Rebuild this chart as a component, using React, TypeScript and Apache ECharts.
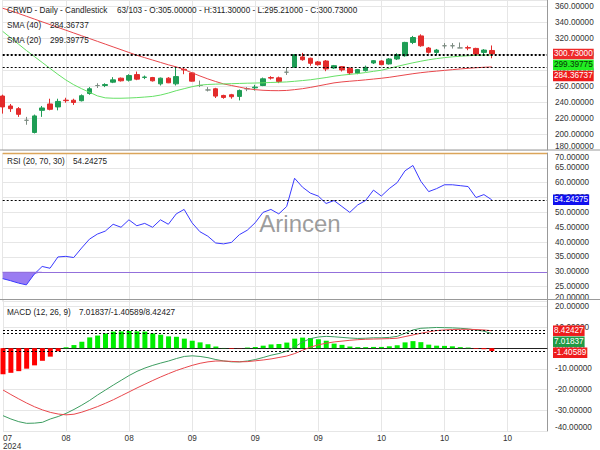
import React, { useEffect, useRef } from 'react';
import * as echarts from 'echarts';

const symbolName = 'CRWD';
const barInfo = '63/103';
const dates = [
  '2024-07-31', '2024-08-01', '2024-08-02', '2024-08-05', '2024-08-06', '2024-08-07', '2024-08-08', '2024-08-09',
  '2024-08-12', '2024-08-13', '2024-08-14', '2024-08-15', '2024-08-16', '2024-08-19', '2024-08-20', '2024-08-21',
  '2024-08-22', '2024-08-23', '2024-08-26', '2024-08-27', '2024-08-28', '2024-08-29', '2024-08-30', '2024-09-03',
  '2024-09-04', '2024-09-05', '2024-09-06', '2024-09-09', '2024-09-10', '2024-09-11', '2024-09-12', '2024-09-13',
  '2024-09-16', '2024-09-17', '2024-09-18', '2024-09-19', '2024-09-20', '2024-09-23', '2024-09-24', '2024-09-25',
  '2024-09-26', '2024-09-27', '2024-09-30', '2024-10-01', '2024-10-02', '2024-10-03', '2024-10-04', '2024-10-07',
  '2024-10-08', '2024-10-09', '2024-10-10', '2024-10-11', '2024-10-14', '2024-10-15', '2024-10-16', '2024-10-17',
  '2024-10-18', '2024-10-21', '2024-10-22', '2024-10-23', '2024-10-24', '2024-10-25', '2024-10-28', '2024-10-29',
  '2024-10-30', '2024-10-31', '2024-11-01', '2024-11-04', '2024-11-05', '2024-11-06',
];
const opens = [247.8, 235.3, 231.9, 217.3, 202.0, 229.8, 237.8, 234.1, 242.6, 242.5, 241.9, 251.0, 261.0, 261.0, 265.2, 270.2,
  267.7, 274.7, 271.2, 271.0, 263.1, 270.2, 263.1, 281.4, 276.8, 261.0, 255.4, 256.9, 248.5, 249.4, 247.3, 256.9,
  258.1, 261.0, 271.0, 270.6, 277.7, 284.0, 296.9, 295.2, 290.6, 291.8, 283.0, 284.7, 282.6, 276.5, 279.7, 289.3,
  291.8, 288.1, 294.3, 298.4, 315.1, 323.3, 308.1, 302.6, 310.9, 310.9, 308.2, 308.6, 307.6, 302.6, 305.0];
const highs = [249.5, 237.8, 233.9, 221.6, 224.5, 235.3, 244.4, 244.4, 245.6, 244.4, 249.8, 259.0, 263.8, 263.8, 271.5, 271.0,
  275.2, 278.5, 273.5, 271.8, 271.0, 271.5, 284.7, 283.6, 277.7, 267.2, 259.0, 258.1, 249.4, 250.5, 256.0, 259.0,
  261.9, 271.0, 272.7, 272.2, 283.9, 300.5, 302.0, 296.0, 291.8, 293.0, 286.8, 285.5, 283.9, 281.8, 286.0, 293.0,
  292.7, 295.5, 301.5, 315.9, 323.3, 325.3, 309.4, 306.9, 314.3, 314.3, 315.0, 311.0, 308.4, 306.7, 311.3];
const lows = [225.7, 227.8, 221.6, 211.7, 200.8, 221.6, 229.8, 229.8, 239.4, 236.6, 241.0, 249.4, 257.9, 259.0, 264.0, 266.0,
  266.0, 267.7, 269.0, 266.0, 261.0, 264.0, 261.0, 275.2, 266.0, 259.0, 253.5, 245.3, 244.4, 244.4, 242.3, 253.9,
  254.7, 260.2, 268.5, 264.0, 274.3, 283.1, 292.2, 285.9, 285.9, 279.0, 281.8, 278.6, 274.3, 275.2, 278.5, 288.0,
  286.5, 287.2, 293.0, 297.2, 313.0, 309.6, 301.0, 299.4, 307.4, 307.4, 308.2, 305.3, 299.5, 299.5, 295.21];
const closes = [234.1, 231.9, 224.8, 217.3, 222.8, 232.8, 231.1, 241.0, 242.0, 239.7, 248.2, 256.9, 261.0, 262.2, 268.1, 266.9,
  273.5, 269.0, 271.6, 266.9, 270.2, 264.4, 272.2, 280.6, 266.5, 261.0, 255.4, 247.7, 246.0, 246.9, 254.8, 256.9,
  259.0, 269.4, 270.3, 266.0, 277.7, 299.7, 293.4, 288.9, 287.2, 281.8, 285.9, 280.6, 276.8, 281.0, 283.9, 292.2,
  287.2, 294.3, 299.7, 315.1, 321.3, 310.9, 302.7, 305.5, 310.9, 310.9, 308.2, 308.0, 300.4, 305.5, 300.73];
const sma20 = [329, 321, 313, 305, 297.5, 290, 282.5, 275, 268, 262, 257, 252.5, 248, 245.5, 245, 245,
  245.3, 245.8, 246.5, 247.3, 249, 251.5, 254.5, 257, 259.5, 261.5, 262.3, 262.7, 263, 263.3, 263.6, 263.9,
  264.1, 264.4, 264.8, 265.1, 265.5, 266.3, 267.2, 268.2, 269.6, 271, 272.7, 274, 275, 276, 277.3, 278.8,
  280.2, 282.5, 285, 287.3, 289.5, 291.5, 293.3, 294.8, 296, 297, 297.8, 298.4, 298.9, 299.2, 299.39775];
const sma40 = [358, 355, 351.5, 348, 344.5, 341, 337.5, 334, 330.5, 327, 323.5, 320, 316.5, 313, 309.5, 306,
  302.5, 299, 296, 293, 290, 287, 284.4, 281, 277, 273, 269.3, 266, 263, 261, 259, 257,
  255.8, 255, 254.6, 254.5, 254.8, 255.8, 257, 258.6, 260.5, 262.4, 264.3, 265.5, 266.4, 267.2, 268.1, 269.1,
  270.1, 271.3, 272.8, 274.3, 275.8, 277.1, 278.2, 279.1, 280, 280.9, 281.8, 282.6, 283.3, 283.9, 284.36737];
const rsi = [27.7, 27.0, 26.2, 25.6, 29.2, 31.8, 31.2, 35.0, 35.2, 34.8, 38.0, 41.0, 42.7, 43.7, 46.0, 45.0,
  47.5, 45.5, 46.3, 45.0, 47.5, 46.0, 49.5, 51.0, 46.5, 43.5, 42.0, 39.7, 39.4, 39.9, 42.5, 44.0,
  46.5, 50.0, 51.0, 49.5, 52.0, 61.5, 58.5, 56.5, 55.5, 53.0, 54.0, 52.0, 50.0, 52.5, 54.0, 57.5,
  55.5, 58.0, 60.0, 64.0, 65.8, 60.5, 57.0, 58.0, 59.3, 59.3, 59.0, 58.7, 55.0, 56.0, 54.24275];
const macd = [-32.6, -34.2, -35.5, -36.3, -36.2, -35.8, -34.2, -33.0, -31.5, -29.6, -27.5, -25.2, -22.6, -20.2, -17.8, -15.5,
  -13.2, -11.2, -9.6, -8.3, -7.2, -6.2, -5.0, -4.0, -3.7, -4.0, -4.6, -5.5, -6.2, -6.6, -6.6, -6.2,
  -5.5, -4.5, -3.4, -2.6, -1.4, 0.6, 3.0, 4.6, 5.4, 5.7, 5.5, 5.2, 4.9, 4.7, 4.8, 5.0,
  5.0, 5.2, 5.7, 7.2, 8.8, 9.6, 9.8, 10.0, 9.9, 9.8, 9.6, 9.3, 8.8, 8.2, 7.01837];
const signal = [-20.2, -22.4, -24.5, -26.5, -28.3, -29.8, -31.0, -31.8, -32.2, -31.9, -30.9, -29.6, -28.2, -26.6, -24.9, -23.0,
  -21.1, -19.2, -17.4, -15.6, -13.9, -12.3, -10.8, -9.5, -8.3, -7.3, -6.6, -6.2, -6.2, -6.4, -6.6, -6.5,
  -6.1, -5.7, -5.2, -4.5, -3.8, -2.6, -1.0, 0.5, 1.6, 2.4, 3.0, 3.4, 3.8, 4.1, 4.3, 4.4,
  4.5, 4.6, 4.8, 5.6, 6.4, 7.2, 7.9, 8.5, 8.8, 9.0, 9.1, 9.1, 9.0, 8.8, 8.42427];
const hist = [-12.6, -11.9, -11.1, -9.9, -8.3, -6.1, -4.1, -1.5, 0.5, 1.5, 3.1, 5.2, 6.1, 7.1, 8.0, 8.1,
  8.3, 8.1, 8.0, 7.1, 6.5, 5.7, 5.5, 4.6, 3.6, 2.8, 1.9, 0.8, 0.1, -0.3, -0.1, 0.3,
  0.6, 1.2, 1.8, 2.0, 2.7, 4.6, 5.1, 4.9, 4.3, 3.6, 2.2, 1.6, 0.8, 0.5, 0.5, 0.6,
  0.6, 0.9, 1.4, 2.8, 3.4, 2.9, 1.7, 1.2, 1.1, 0.9, 0.5, 0.3, -0.3, -0.5, -1.40589];
const rsiLevels = [70, 30];

const FONT = '"Liberation Sans", Arial, sans-serif';
const FS = 8.2;
const UP = '#1f9d55';
const DOWN = '#e32b2b';
const SMA40C = '#e8474c';
const SMA20C = '#66e066';
const RSIC = '#3a3aff';
const MACDC = '#3d9d60';
const SIGC = '#e8474c';

export default function App() {
  const ref = useRef<HTMLDivElement>(null);
  useEffect(() => {
    const chart = echarts.init(ref.current!, null, { renderer: 'svg' });
    const n = closes.length - 1;
    const fmt = (v: number) => v.toFixed(5);
    const dotted = (v: number) => ({
      silent: true,
      symbol: ['none', 'none'],
      label: { show: false },
      lineStyle: { color: '#000', type: [2, 2], width: 1 },
      data: [{ yAxis: v }],
    });
    const gridL = 2.7, gridR = 53;
    const xAxes = [0, 1, 2].map((k) => ({
      type: 'category',
      gridIndex: k,
      data: dates,
      boundaryGap: false,
      axisTick: { show: false },
      axisLine: { show: k === 2, lineStyle: { color: '#222', width: 1 } },
      splitLine: { show: true, interval: 7, lineStyle: { color: '#e6e6e6', width: 1 } },
      axisLabel: {
        show: k === 2,
        interval: 7,
        margin: 3,
        fontSize: FS,
        lineHeight: 8,
        fontFamily: FONT,
        color: '#333',
        alignMinLabel: 'left',
        formatter: (value: string, index: number) => {
          const m = value.slice(5, 7);
          return index === 0 ? m + '\n' + value.slice(0, 4) : m;
        },
      },
    }));
    const yBase = (k: number, min: number, max: number, interval: number, extra: any) => ({
      type: 'value',
      gridIndex: k,
      position: 'right',
      min,
      max,
      interval,
      scale: true,
      axisLine: { show: true, lineStyle: { color: '#999', width: 1 } },
      axisTick: { show: false },
      splitLine: { show: true, lineStyle: { color: '#e6e6e6', width: 1 } },
      axisLabel: {
        fontSize: FS,
        fontFamily: FONT,
        color: '#333',
        margin: 8,
        formatter: (v: number) => fmt(v),
        ...extra,
      },
    });
    const option: any = {
      animation: false,
      backgroundColor: '#fff',
      grid: [
        { left: gridL, right: gridR, top: 0, height: 150 },
        { left: gridL, right: gridR, top: 153, height: 148.5 },
        { left: gridL, right: gridR, top: 299.5, height: 135.5 },
      ],
      xAxis: xAxes,
      yAxis: [
        yBase(0, 180, 368.4, 20, { showMaxLabel: false, verticalAlignMinLabel: 'bottom' }),
        yBase(1, 20, 70, 5, { verticalAlignMinLabel: 'bottom', verticalAlignMaxLabel: 'top' }),
        yBase(2, -40, 23.5, 10, { showMaxLabel: false, verticalAlignMinLabel: 'bottom' }),
      ],
      series: [
        {
          type: 'candlestick',
          xAxisIndex: 0,
          yAxisIndex: 0,
          barWidth: 5,
          clip: false,
          data: closes.map((c, i) => [opens[i], c, lows[i], highs[i]]),
          itemStyle: {
            color: UP,
            color0: DOWN,
            borderColor: UP,
            borderColor0: DOWN,
            borderColorDoji: '#7d8c82',
            borderWidth: 1,
          },
          markLine: dotted(closes[n]),
        },
        {
          type: 'line', xAxisIndex: 0, yAxisIndex: 0, data: sma40, symbol: 'none',
          lineStyle: { color: SMA40C, width: 1 }, markLine: dotted(sma40[n]), z: 3,
        },
        {
          type: 'line', xAxisIndex: 0, yAxisIndex: 0, data: sma20, symbol: 'none',
          lineStyle: { color: SMA20C, width: 1 }, markLine: dotted(sma20[n]), z: 3,
        },
        {
          type: 'line', xAxisIndex: 1, yAxisIndex: 1, stack: 'rsiLow', symbol: 'none',
          data: rsi.map((v) => Math.min(v, rsiLevels[1])), lineStyle: { opacity: 0 },
        },
        {
          type: 'line', xAxisIndex: 1, yAxisIndex: 1, stack: 'rsiLow', symbol: 'none',
          data: rsi.map((v) => rsiLevels[1] - Math.min(v, rsiLevels[1])), lineStyle: { opacity: 0 },
          areaStyle: { color: '#9a7cf2', opacity: 1 },
        },
        {
          type: 'line', xAxisIndex: 1, yAxisIndex: 1, data: rsi, symbol: 'none', clip: false,
          lineStyle: { color: RSIC, width: 1 },
          markLine: {
            silent: true,
            symbol: ['none', 'none'],
            label: { show: false },
            data: [
              { yAxis: rsiLevels[1], lineStyle: { color: '#9370db', type: 'solid', width: 1 } },
              { yAxis: rsi[n], lineStyle: { color: '#000', type: [2, 2], width: 1 } },
            ],
          },
          z: 4,
        },
        {
          type: 'bar', xAxisIndex: 2, yAxisIndex: 2, data: hist, barWidth: 5, clip: false,
          itemStyle: { color: (p: any) => (p.value >= 0 ? '#00ee00' : '#ff0000') },
          markLine: dotted(hist[n]),
        },
        {
          type: 'line', xAxisIndex: 2, yAxisIndex: 2, data: macd, symbol: 'none',
          lineStyle: { color: MACDC, width: 1 }, markLine: dotted(macd[n]), z: 4,
        },
        {
          type: 'line', xAxisIndex: 2, yAxisIndex: 2, data: signal, symbol: 'none',
          lineStyle: { color: SIGC, width: 1 }, markLine: dotted(signal[n]), z: 4,
        },
      ],
    };
    chart.setOption(option);

    const txt = (x: number, y: number, text: string, extra: any = {}) => ({
      type: 'text', x, y, z: 50,
      style: { text, fill: '#222', font: `${FS}px ${FONT}`, verticalAlign: 'middle', align: 'left', ...extra },
    });
    const tags: any[] = [];
    const stackTags = (axis: number, items: { v: number; bg: string; fg: string }[]) => {
      let prev = -1e9;
      items.sort((a, b) => b.v - a.v).forEach((it) => {
        let y = chart.convertToPixel({ yAxisIndex: axis } as any, it.v) as number;
        if (y < prev + 11) y = prev + 11;
        prev = y;
        tags.push({
          type: 'text', x: 553, y, z: 100,
          style: {
            text: fmt(it.v), fill: it.fg, font: `${FS}px ${FONT}`, verticalAlign: 'middle', align: 'left',
            backgroundColor: it.bg, padding: [1, 1, 1, 1], lineHeight: 8.5,
          },
        });
      });
    };
    stackTags(0, [
      { v: closes[n], bg: '#ee2a2a', fg: '#fff' },
      { v: sma20[n], bg: '#22ee22', fg: '#063306' },
      { v: sma40[n], bg: '#ee1c1c', fg: '#fff' },
    ]);
    stackTags(1, [{ v: rsi[n], bg: '#1010ee', fg: '#fff' }]);
    stackTags(2, [
      { v: signal[n], bg: '#ee1c1c', fg: '#fff' },
      { v: macd[n], bg: '#1f9a45', fg: '#fff' },
      { v: hist[n], bg: '#ee1c1c', fg: '#fff' },
    ]);
    const y70 = Math.round(chart.convertToPixel({ yAxisIndex: 1 } as any, rsiLevels[0]) as number) + 0.5;
    const ohlc = `${barInfo} - O:${fmt(opens[n])} - H:${fmt(highs[n])} - L:${fmt(lows[n])} - C:${fmt(closes[n])}`;
    chart.setOption({
      graphic: [
        {
          type: 'text', left: 'center', top: 211, z: 1, silent: true,
          style: { text: 'Arincen', fill: 'rgba(90,90,90,0.6)', font: `24px ${FONT}` },
        },
        { type: 'line', z: 60, shape: { x1: 0, y1: 150, x2: 600, y2: 150 }, style: { stroke: '#999', lineWidth: 1 } },
        { type: 'line', z: 60, shape: { x1: 0, y1: 299.5, x2: 600, y2: 299.5 }, style: { stroke: '#999', lineWidth: 1 } },
        { type: 'line', z: 61, shape: { x1: gridL, y1: y70, x2: 547, y2: y70 }, style: { stroke: '#dba55a', lineWidth: 1.5 } },
        txt(7, 10.5, `${symbolName} - Daily - Candlestick`),
        txt(117, 10.5, ohlc),
        txt(7, 25, 'SMA (40)'),
        txt(50, 25, fmt(sma40[n])),
        txt(7, 40, 'SMA (20)'),
        txt(50, 40, fmt(sma20[n])),
        txt(7, 161, 'RSI (20, 70, 30)'),
        txt(73, 161, fmt(rsi[n])),
        txt(7, 312, 'MACD (12, 26, 9)'),
        txt(79, 312, `${fmt(macd[n])}/${fmt(hist[n])}/${fmt(signal[n])}`),
        ...tags,
      ],
    });
    return () => chart.dispose();
  }, []);
  return <div ref={ref} style={{ position: 'fixed', left: 0, top: 0, width: 600, height: 450 }} />;
}
